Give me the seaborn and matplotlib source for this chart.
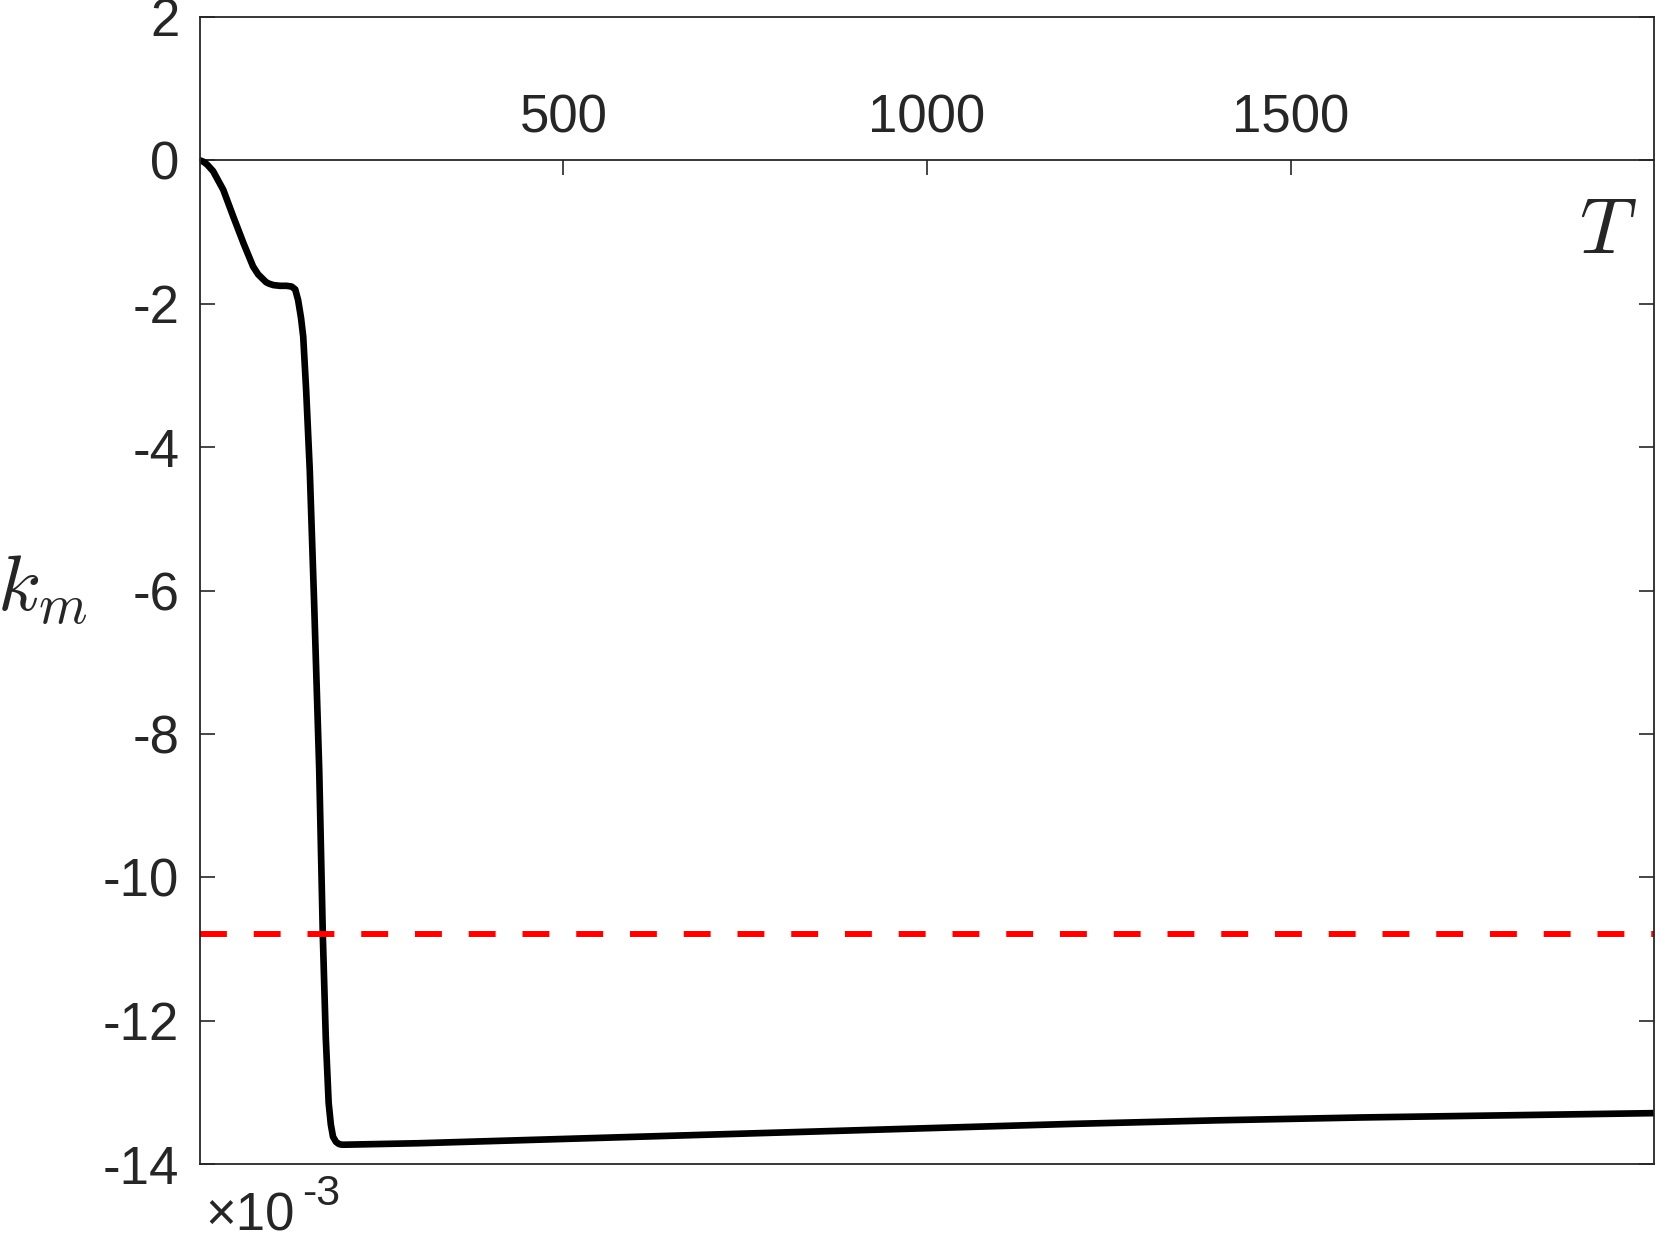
import matplotlib
matplotlib.use("Agg")
import matplotlib.pyplot as plt
import seaborn as sns
import numpy as np

# Data: k_m (in units of 1e-3) versus T
T_vals = [0, 5, 10, 18, 32, 46, 60, 73, 80, 87, 91, 95, 101, 110, 119, 126, 131,
          135, 139, 142, 146, 151, 157, 164, 169, 173, 177, 180, 183, 187, 191,
          195, 200, 300, 400, 600, 800, 1000, 1200, 1400, 1600, 1800, 2000]
km_vals = [0, -0.02, -0.06, -0.15, -0.41, -0.79, -1.16, -1.48, -1.59, -1.66,
           -1.70, -1.72, -1.74, -1.75, -1.75, -1.76, -1.80, -1.95, -2.20, -2.46,
           -3.20, -4.32, -6.17, -8.50, -10.83, -12.23, -13.15, -13.45, -13.62,
           -13.69, -13.72, -13.73, -13.73, -13.71, -13.68, -13.62, -13.56,
           -13.50, -13.44, -13.39, -13.35, -13.32, -13.29]
ref_level = -10.79

x_ticks = [500, 1000, 1500]
y_ticks = [-14, -12, -10, -8, -6, -4, -2, 0, 2]

sns.set_style("white")
plt.rcParams['font.family'] = ['Liberation Sans', 'DejaVu Sans']
plt.rcParams['mathtext.fontset'] = 'cm'
plt.rcParams['axes.unicode_minus'] = False

axis_col = '#262626'

fig = plt.figure(figsize=(16.61, 12.39), dpi=100)
ax = fig.add_axes([0.1204, 0.0605, 0.8754, 0.9258])

sns.lineplot(x=T_vals, y=km_vals, sort=False, estimator=None, color='black',
             lw=4.8, ax=ax)
ax.axhline(ref_level, color='red', lw=4.3, dashes=(4.5, 4.5))

ax.set_xlim(0, 2000)
ax.set_ylim(-14, 2)
ax.set_yticks(y_ticks)
ax.tick_params(axis='x', bottom=False, labelbottom=False)
ax.tick_params(axis='y', direction='in', left=True, right=True, length=10.8,
               width=1.2, labelsize=38, pad=15, colors=axis_col)
for s in ax.spines.values():
    s.set_color(axis_col)
    s.set_linewidth(1.3)

# x axis drawn through the origin, labels above
sec = ax.secondary_xaxis(0, transform=ax.transData)
sec.set_alignment('top')
sec.set_xticks(x_ticks)
sec.tick_params(axis='x', direction='in', length=10.8, width=1.2,
                labelsize=38, pad=12, colors=axis_col)
sec.spines['top'].set_color(axis_col)
sec.spines['top'].set_linewidth(1.3)

# Labels
ax.set_ylabel(r'$k_m$', fontsize=57, rotation=0, ha='center', va='center')
ax.yaxis.set_label_coords(-0.1087, 0.5)
ax.text(0.968, 0.8125, r'$T$', transform=ax.transAxes, ha='center',
        va='center', fontsize=57)

# Exponent note under the axis
ax.text(0.004, -0.058, '×10', transform=ax.transAxes, ha='left',
        va='baseline', fontsize=38, color=axis_col)
ax.text(0.070, -0.036, '-3', transform=ax.transAxes, ha='left',
        va='baseline', fontsize=31, color=axis_col)

plt.savefig('out.png', dpi=100)
